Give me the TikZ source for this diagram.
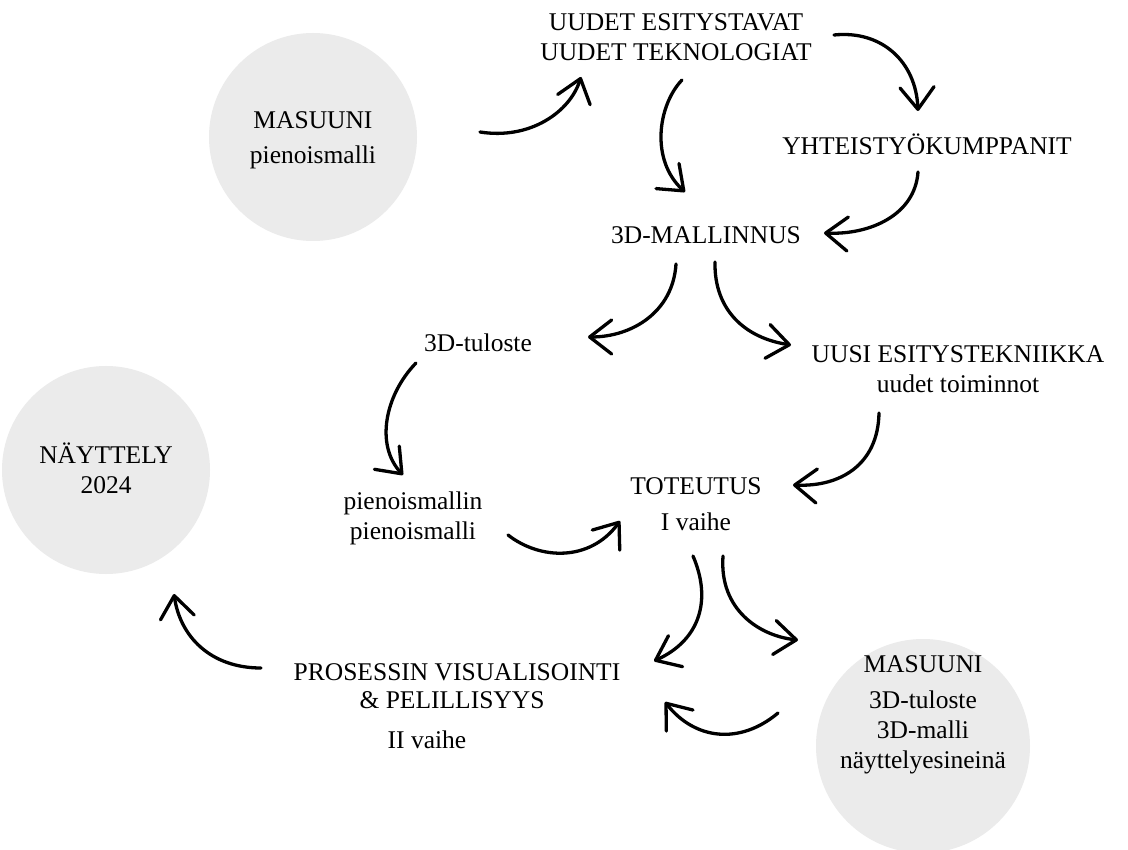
\documentclass[tikz,border=0pt]{standalone}
\usepackage{fontspec}
\setmainfont{Liberation Serif}
\usetikzlibrary{arrows.meta}
\definecolor{circgray}{HTML}{EBEBEB}
\tikzset{
  lbl/.style={font=\fontsize{25.5}{30}\selectfont, inner sep=0pt, align=center, text=black},
  blob/.style={circle, fill=circgray, draw=none, minimum size=208pt, inner sep=0pt},
  flow/.style={line width=3.3pt, line cap=round, -{Straight Barb[length=22pt,width=34pt,line width=3.3pt,round]}}
}
\begin{document}
\begin{tikzpicture}[x=1pt,y=-1pt]
\useasboundingbox (0,0) rectangle (1128,850);
\fill[white] (0,0) rectangle (1128,850);
% circles
\node[blob] (c1) at (313,137) {};
\node[blob] (c2) at (106,470) {};
\node[blob, minimum size=214pt] (c3) at (923,746) {};
% labels
\node[lbl] (masuuni1) at (313,140) {MASUUNI\\[5pt]pienoismalli};
\node[lbl] (uudet) at (676,37) {UUDET ESITYSTAVAT\\UUDET TEKNOLOGIAT};
\node[lbl] (yht) at (927,144) {YHTEISTYÖKUMPPANIT};
\node[lbl] (malli) at (706,235) {3D-MALLINNUS};
\node[lbl] (tuloste) at (478,343) {3D-tuloste};
\node[lbl] (uusi) at (958,369) {UUSI ESITYSTEKNIIKKA\\uudet toiminnot};
\node[lbl] (nayttely) at (106,468) {NÄYTTELY\\2024};
\node[lbl] (toteutus) at (696,504) {TOTEUTUS\\[6pt]I vaihe};
\node[lbl] (pien) at (413,518) {pienoismallin\\pienoismalli};
\node[lbl] (pros1) at (457,672) {PROSESSIN VISUALISOINTI};
\node[lbl] (pros2) at (452,700) {\& PELILLISYYS};
\node[lbl] (pros3) at (427,740) {II vaihe};
\node[lbl] (masuuni2) at (923,715) {MASUUNI\\[6pt]3D-tuloste\\3D-malli\\näyttelyesineinä};
% connector end points
\coordinate (a1s) at (480,132); \coordinate (a1e) at (581,77);
\coordinate (a2s) at (682,80);  \coordinate (a2e) at (685,192);
\coordinate (a3s) at (834,35);  \coordinate (a3e) at (918,111);
\coordinate (a4s) at (918,172); \coordinate (a4e) at (824,233);
\coordinate (a5s) at (676,264); \coordinate (a5e) at (588,337);
\coordinate (a6s) at (715,262); \coordinate (a6e) at (791,345);
\coordinate (a7s) at (416,363); \coordinate (a7e) at (403,475);
\coordinate (a8s) at (879,413); \coordinate (a8e) at (793,485);
\coordinate (a9s) at (508,535); \coordinate (a9e) at (620,521);
\coordinate (a10s) at (693,556); \coordinate (a10e) at (654,661);
\coordinate (a11s) at (723,556); \coordinate (a11e) at (798,640);
\coordinate (a12s) at (778,713); \coordinate (a12e) at (665,702);
\coordinate (a13s) at (261,668); \coordinate (a13e) at (174,594);
% arrows
\draw[flow] (a1s) .. controls (530,140) and (570,112) .. (a1e);
\draw[flow] (a2s) .. controls (658,105) and (650,160) .. (a2e);
\draw[flow] (a3s) .. controls (882,30) and (916,62) .. (a3e);
\draw[flow] (a4s) .. controls (915,215) and (870,235) .. (a4e);
\draw[flow] (a5s) .. controls (673,312) and (632,337) .. (a5e);
\draw[flow] (a6s) .. controls (714,310) and (745,338) .. (a6e);
\draw[flow] (a7s) .. controls (385,395) and (375,445) .. (a7e);
\draw[flow] (a8s) .. controls (878,465) and (840,487) .. (a8e);
\draw[flow] (a9s) .. controls (540,560) and (590,562) .. (a9e);
\draw[flow] (a10s) .. controls (712,600) and (700,640) .. (a10e);
\draw[flow] (a11s) .. controls (719,610) and (760,636) .. (a11e);
\draw[flow] (a12s) .. controls (740,745) and (695,740) .. (a12e);
\draw[flow] (a13s) .. controls (210,668) and (180,636) .. (a13e);
\end{tikzpicture}
\end{document}
